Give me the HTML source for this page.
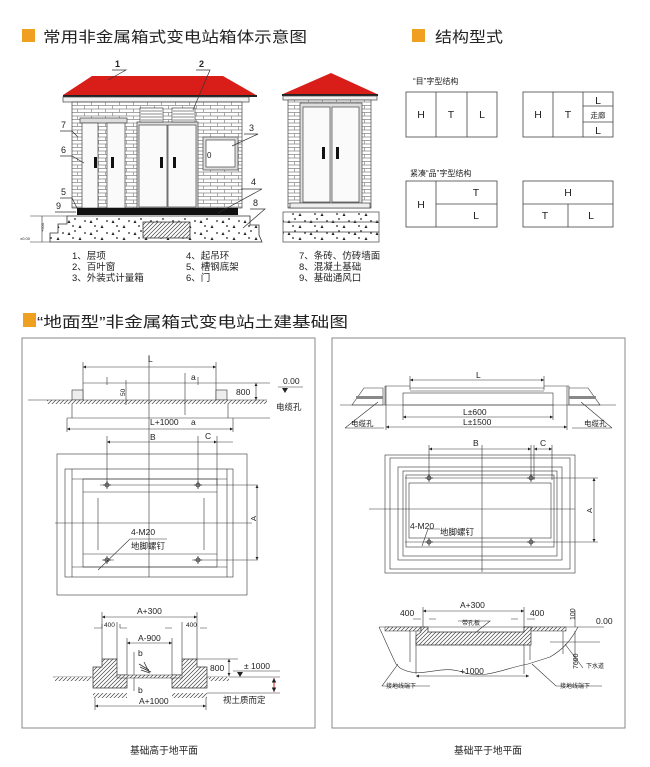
<!DOCTYPE html>
<html><head><meta charset="utf-8">
<style>
html,body{margin:0;padding:0;background:#fff;}
svg{display:block;}
text{font-family:"Liberation Sans","Noto Sans CJK SC",sans-serif;fill:#222;}
</style></head><body>
<svg width="650" height="767" viewBox="0 0 650 767" xmlns="http://www.w3.org/2000/svg">
<defs>
<pattern id="brick" width="14" height="7" patternUnits="userSpaceOnUse">
<rect width="14" height="7" fill="#fff"/>
<path d="M0 0.5H14M0 4H14M0.5 0.5V4M7.5 4V7" stroke="#888" stroke-width="0.7" fill="none"/>
</pattern>
<pattern id="hatch" width="4" height="4" patternUnits="userSpaceOnUse">
<rect width="4" height="4" fill="#fff"/>
<path d="M0 4L4 0M-1 1L1 -1M3 5L5 3" stroke="#444" stroke-width="0.7"/>
</pattern>
<pattern id="dots" width="22" height="12" patternUnits="userSpaceOnUse">
<rect width="22" height="12" fill="#fff"/>
<path d="M3 4l1.5 3h-3zM14 9l1.5 3h-3z" fill="#222"/>
<circle cx="9" cy="3" r="0.9" fill="#222"/><circle cx="19" cy="5" r="0.9" fill="#222"/><circle cx="7" cy="10" r="0.9" fill="#222"/>
</pattern>
<marker id="ar" viewBox="0 0 6 6" refX="6" refY="3" markerWidth="5" markerHeight="5" orient="auto-start-reverse"><path d="M0 0L6 3L0 6z" fill="#222"/></marker>
</defs>

<rect x="22" y="29" width="13" height="13" fill="#f0a020"/>
<text x="43" y="42" font-size="15" textLength="264" lengthAdjust="spacingAndGlyphs">常用非金属箱式变电站箱体示意图</text>
<rect x="412" y="29" width="13" height="13" fill="#f0a020"/>
<text x="435" y="42" font-size="15" textLength="68" lengthAdjust="spacingAndGlyphs">结构型式</text>

<g stroke="#444" stroke-width="0.7">
<polygon points="92,76 223,76 256,95 63,95" fill="#d91e1a" stroke="none"/>
<rect x="63" y="95" width="194" height="2" fill="#222" stroke="none"/>
<rect x="63" y="97" width="186" height="5" fill="#f2f2f2"/>
<rect x="72" y="102" width="170" height="106" fill="url(#brick)"/>
<rect x="80" y="118" width="47" height="5" fill="#ddd"/>
<rect x="82" y="123" width="16" height="85" fill="#fafafa"/>
<rect x="107" y="123" width="18" height="85" fill="#fafafa"/>
<rect x="137" y="122" width="61" height="86" fill="#ddd"/>
<rect x="139" y="125" width="28" height="82" fill="#fafafa"/>
<rect x="168" y="125" width="28" height="82" fill="#fafafa"/>
<rect x="140" y="108" width="23" height="14" fill="#fff"/>
<rect x="172" y="108" width="23" height="14" fill="#fff"/>
<path d="M141 111H162M141 114H162M141 117H162M141 120H162M173 111H194M173 114H194M173 117H194M173 120H194" stroke="#666"/>
<rect x="203" y="137" width="35" height="33" fill="#ddd"/>
<rect x="206" y="140" width="29" height="27" fill="#fff"/>
</g>
<g fill="#111">
<rect x="94" y="157" width="3" height="11"/><rect x="111" y="157" width="3" height="11"/>
<rect x="160" y="157" width="3" height="11"/><rect x="173" y="157" width="3" height="11"/>
</g>
<text x="207" y="158" font-size="8">0</text>
<rect x="77" y="208" width="161" height="7" fill="#111"/>
<polygon points="67,216 242,216 250,216 250,225 259,225 259,235 262,242 50,242 50,233 58,233 58,224 67,224" fill="url(#dots)" stroke="#333" stroke-width="0.8"/>
<path d="M30 216H67M30 242H50" stroke="#333" stroke-width="0.6"/>
<rect x="143" y="222" width="47" height="16" fill="url(#hatch)" stroke="#333" stroke-width="0.8"/>
<path d="M42 216V242" stroke="#333" stroke-width="0.6"/>
<text x="44" y="232" font-size="4" transform="rotate(-90 44 232)">+500</text>
<text x="20" y="240" font-size="4">±0.00</text>
<g stroke="#333" stroke-width="0.7" fill="none">
<path d="M112 70H126L108 80M196 70H210L193 110"/>
<path d="M60 131H72L78 137M60 156H72L84 163M60 198H72L77 208M55 212H76"/>
<path d="M244 134H258L232 146M241 189H262L218 213M250 209H265L243 228"/>
</g>
<g font-size="9">
<text x="115" y="67" font-weight="bold">1</text><text x="199" y="67" font-weight="bold">2</text>
<text x="61" y="128">7</text><text x="61" y="153">6</text><text x="61" y="195">5</text><text x="56" y="209">9</text>
<text x="249" y="131">3</text><text x="251" y="185">4</text><text x="253" y="206">8</text>
</g>

<g stroke="#444" stroke-width="0.7">
<polygon points="331,73 377,94 283,94" fill="#d91e1a" stroke="none"/>
<rect x="282" y="94" width="96" height="2" fill="#222" stroke="none"/>
<rect x="283" y="96" width="94" height="4" fill="#f2f2f2"/>
<rect x="288" y="100" width="83" height="108" fill="url(#brick)"/>
<rect x="300" y="103" width="62" height="100" fill="#ddd"/>
<rect x="303" y="107" width="27" height="95" fill="#fafafa"/>
<rect x="332" y="107" width="27" height="95" fill="#fafafa"/>
<rect x="290" y="203" width="80" height="5" fill="#eee"/>
<rect x="283" y="212" width="96" height="30" fill="url(#dots)"/>
<path d="M283 222H379M283 232H379"/>
</g>
<rect x="322" y="147" width="3" height="12" fill="#111"/><rect x="336" y="147" width="3" height="12" fill="#111"/>

<g font-size="9.5" fill="#333">
<text x="72" y="259">1、层项</text><text x="72" y="270">2、百叶窗</text><text x="72" y="281">3、外装式计量箱</text>
<text x="186" y="259">4、起吊环</text><text x="186" y="270">5、槽钢底架</text><text x="186" y="281">6、门</text>
<text x="299" y="259">7、条砖、仿砖墙面</text><text x="299" y="270">8、混凝土基础</text><text x="299" y="281">9、基础通风口</text>
</g>

<g font-size="8" fill="#333">
<text x="413" y="84">“目”字型结构</text>
<text x="410" y="176">紧凑“品”字型结构</text>
</g>
<g stroke="#444" stroke-width="0.8" fill="none">
<rect x="406" y="92" width="91" height="45"/><path d="M436 92V137M467 92V137"/>
<rect x="523" y="92" width="90" height="45"/><path d="M553 92V137M583 92V137M583 106H613M583 122H613"/>
<rect x="406" y="181" width="91" height="46"/><path d="M436 181V227M436 204H497"/>
<rect x="523" y="181" width="90" height="46"/><path d="M523 204H613M568 204V227"/>
</g>
<g font-size="10.5" text-anchor="middle" fill="#333">
<text x="421" y="118">H</text><text x="451" y="118">T</text><text x="482" y="118">L</text>
<text x="538" y="118">H</text><text x="568" y="118">T</text><text x="598" y="104">L</text><text x="598" y="118" font-size="7.5">走廊</text><text x="598" y="134">L</text>
<text x="421" y="208">H</text><text x="476" y="196">T</text><text x="476" y="219">L</text>
<text x="568" y="196">H</text><text x="545" y="219">T</text><text x="591" y="219">L</text>
</g>

<rect x="23" y="313" width="13" height="14" fill="#f0a020"/>
<text x="37" y="327" font-size="15" textLength="311" lengthAdjust="spacingAndGlyphs">“地面型”非金属箱式变电站土建基础图</text>

<rect x="22" y="338" width="293" height="390" fill="none" stroke="#888" stroke-width="1"/>
<rect x="332" y="338" width="293" height="390" fill="none" stroke="#888" stroke-width="1"/>
<text x="164" y="754" font-size="10" text-anchor="middle" textLength="68" lengthAdjust="spacingAndGlyphs">基础高于地平面</text>
<text x="488" y="754" font-size="10" text-anchor="middle" textLength="68" lengthAdjust="spacingAndGlyphs">基础平于地平面</text>

<g stroke="#333" stroke-width="0.6" fill="none">
<path d="M83 367H216" marker-start="url(#ar)" marker-end="url(#ar)"/>
<path d="M83 362V400M216 362V400M83 383H270"/>
<rect x="72" y="390" width="11" height="10" fill="#eee"/><rect x="216" y="390" width="11" height="10" fill="#eee"/>
<rect x="47" y="400" width="220" height="4" fill="url(#hatch)" stroke="none"/>
<path d="M28 400H267"/>
<path d="M72 404V418H228V404M67 418H270"/>
<path d="M67 429H233" marker-start="url(#ar)" marker-end="url(#ar)"/>
<path d="M67 418V432M233 418V432"/>
<path d="M149 355V577"/>
<path d="M185 373V415M126 380V405M107 377V385M198 377V385"/>
<path d="M256 383V400" marker-start="url(#ar)" marker-end="url(#ar)"/>
<path d="M278 387H303"/>
<path d="M107 442H198M198 442H217" marker-start="url(#ar)" marker-end="url(#ar)"/>
<path d="M107 436V485M198 436V485M217 436V485M217 442H233"/>
<rect x="57" y="454" width="190" height="141"/>
<rect x="65" y="469" width="168" height="108"/>
<path d="M72 469V577M227 469V577"/>
<rect x="83" y="479" width="134" height="88"/>
<path d="M72 479H227M72 567H227M83 492H217M83 554H217"/>
<path d="M98 498V550M204 498V550"/>
<path d="M100 485H258M192 560H258M102 560H114M55 523H252"/>
<path d="M257 485V560" marker-start="url(#ar)" marker-end="url(#ar)"/>
<path d="M167 539H130L98 570"/>
<path d="M102 617H197" marker-start="url(#ar)" marker-end="url(#ar)"/>
<path d="M102 612V659M197 612V659M117 622V659M182 622V659"/>
<path d="M94 628H102M120 628H127M165 628H172M200 628H207" />
<path d="M102 628V624M120 628V624"/>
<path d="M127 643H172" marker-start="url(#ar)" marker-end="url(#ar)"/>
<path d="M127 638V675M172 638V675"/>
<path d="M134 652V691"/>
<path d="M197 659H238"/>
<path d="M229 659V676" marker-start="url(#ar)" marker-end="url(#ar)"/>
<path d="M233 671H280M53 677H93M207 677H280M207 693H280"/>
<path d="M95 706H206" marker-start="url(#ar)" marker-end="url(#ar)"/>
<path d="M95 698V710M206 698V710"/>
</g>
<polygon points="102,659 117,659 117,675 127,675 127,688 93,688 93,667 102,667" fill="url(#hatch)" stroke="#333" stroke-width="0.7"/>
<polygon points="182,659 197,659 197,667 207,667 207,688 172,688 172,675 182,675" fill="url(#hatch)" stroke="#333" stroke-width="0.7"/>
<rect x="117" y="675" width="65" height="3" fill="url(#hatch)" stroke="#333" stroke-width="0.5"/>
<rect x="93" y="693" width="34" height="5" fill="url(#hatch)"/><rect x="172" y="693" width="35" height="5" fill="url(#hatch)"/>
<rect x="55" y="677" width="36" height="4" fill="url(#hatch)"/><rect x="209" y="677" width="20" height="4" fill="url(#hatch)"/>
<path d="M139 664l10 6M140 667l11 5M141 670l9 3M144 662l5 10" stroke="#333" stroke-width="0.8"/>
<path d="M282 388l3 5l3-5z M237 672l3 5l3-5z" fill="#222"/>
<path d="M274 678V692" stroke="#d00" stroke-width="0.9" marker-start="url(#ar)" marker-end="url(#ar)"/>
<g font-size="8.5" fill="#333">
<text x="148" y="362">L</text><text x="191" y="380">a</text><text x="191" y="425">a</text>
<text x="125" y="396" font-size="6.5" transform="rotate(-90 125 396)">50</text>
<text x="236" y="395">800</text><text x="283" y="384">0.00</text><text x="276" y="410">电缆孔</text>
<text x="150" y="425">L+1000</text>
<text x="150" y="440">B</text><text x="205" y="439">C</text>
<text x="256" y="521" font-size="7.5" transform="rotate(-90 256 521)">A</text>
<text x="131" y="535">4-M20</text><text x="131" y="549">地脚螺钉</text>
<text x="137" y="614">A+300</text>
<text x="104" y="627" font-size="6.5">400</text><text x="186" y="627" font-size="6.5">400</text>
<text x="138" y="641">A-900</text>
<text x="138" y="656">b</text><text x="138" y="693">b</text>
<text x="210" y="671">800</text><text x="244" y="669">± 1000</text>
<text x="139" y="704">A+1000</text>
<text x="223" y="703">视土质而定</text>
</g>
<g fill="none" stroke="#222" stroke-width="0.7">
<circle cx="107" cy="485" r="2"/><circle cx="198" cy="485" r="2"/><circle cx="107" cy="560" r="2"/><circle cx="198" cy="560" r="2"/>
<path d="M103 485h8M194 485h8M103 560h8M194 560h8M107 481v8M198 481v8M107 556v8M198 556v8"/>
</g>

<g stroke="#333" stroke-width="0.6" fill="none">
<path d="M410 380H544" marker-start="url(#ar)" marker-end="url(#ar)"/>
<path d="M410 376V390M544 376V390"/>
<path d="M385 386H410M544 386H569M385 386V405M569 386V405"/>
<path d="M410 388H544M410 391H544"/>
<rect x="403" y="393" width="150" height="12"/>
<polygon points="352,405 364,388 383,388 383,405" fill="#fff"/>
<polygon points="569,405 569,388 588,388 600,405" fill="#fff"/>
<rect x="356" y="396" width="27" height="3" fill="#888" stroke="none"/>
<rect x="569" y="396" width="27" height="3" fill="#888" stroke="none"/>
<path d="M340 405H616"/>
<path d="M403 405V420M553 405V420M386 386V430M567 386V430"/>
<path d="M403 417H553" marker-start="url(#ar)" marker-end="url(#ar)"/>
<path d="M386 427H567" marker-start="url(#ar)" marker-end="url(#ar)"/>
<path d="M345 428H384M378 402L345 428M572 428H612M581 402L612 428"/>
<path d="M429 449H531" marker-start="url(#ar)" marker-end="url(#ar)"/>
<path d="M534 449H552" marker-start="url(#ar)" marker-end="url(#ar)"/>
<path d="M429 445V480M531 445V480M534 445V480M552 445V480"/>
<rect x="385" y="455" width="190" height="118"/>
<rect x="390" y="458" width="180" height="111"/>
<rect x="398" y="467" width="164" height="93"/>
<rect x="403" y="471" width="154" height="85"/>
<rect x="406" y="475" width="148" height="72"/>
<rect x="409" y="483" width="142" height="55"/>
<path d="M405 478H598M405 542H598M482 445V572M369 509H575"/>
<path d="M594 478V542" marker-start="url(#ar)" marker-end="url(#ar)"/>
<path d="M440 529H428L422 546"/>
<path d="M423 611H524" marker-start="url(#ar)" marker-end="url(#ar)"/>
<path d="M423 607V628M524 607V628M413 619H421M429 619H436M511 619H518M527 619H535"/>
<path d="M458 621H490L475 633"/>
<path d="M379 627H604"/>
<path d="M379 627C386 642 390 652 396 664L400 668C420 680 440 664 462 672C485 680 505 668 528 664L550 657C562 650 570 642 578 627"/>
<path d="M410 631V662M416 631V674M524 631V674M530 631V660M563 631V654"/>
<path d="M416 676H529" marker-start="url(#ar)" marker-end="url(#ar)"/>
<path d="M575 610V627M575 631V662M550 642H600M565 644L583 668"/>
<path d="M398 664L382 686H430M532 664L556 686H602"/>
</g>
<rect x="385" y="627" width="36" height="4" fill="url(#hatch)" stroke="#333" stroke-width="0.5"/>
<rect x="524" y="627" width="42" height="4" fill="url(#hatch)" stroke="#333" stroke-width="0.5"/>
<polygon points="421,627 428,627 428,632 524,632 524,627 531,627 531,645 416,645 416,636 421,632" fill="url(#hatch)" stroke="#333" stroke-width="0.7"/>
<g fill="none" stroke="#222" stroke-width="0.7">
<circle cx="429" cy="478" r="2"/><circle cx="531" cy="478" r="2"/><circle cx="429" cy="542" r="2"/><circle cx="531" cy="542" r="2"/>
<path d="M425 478h8M527 478h8M425 542h8M527 542h8M429 474v8M531 474v8M429 538v8M531 538v8"/>
</g>
<g font-size="8.5" fill="#333">
<text x="476" y="378">L</text>
<text x="463" y="415">L±600</text><text x="463" y="425">L±1500</text>
<text x="351" y="426" font-size="7.5">电缆孔</text><text x="584" y="426" font-size="7.5">电缆孔</text>
<text x="473" y="446">B</text><text x="540" y="446">C</text>
<text x="592" y="513" font-size="7.5" transform="rotate(-90 592 513)">A</text>
<text x="410" y="529">4-M20</text><text x="440" y="535">地脚螺钉</text>
<text x="460" y="608">A+300</text>
<text x="400" y="616">400</text><text x="530" y="616">400</text>
<text x="462" y="625" font-size="6">带孔板</text>
<text x="575" y="620" font-size="7" transform="rotate(-90 575 620)">100</text>
<text x="596" y="624">0.00</text>
<text x="460" y="674">+1000</text>
<text x="578" y="669" font-size="7" transform="rotate(-90 578 669)">7600</text>
<text x="586" y="668" font-size="6">下水道</text>
<text x="386" y="688" font-size="6">接地线端下</text><text x="560" y="688" font-size="6">接地线端下</text>
</g>
</svg>
</body></html>
